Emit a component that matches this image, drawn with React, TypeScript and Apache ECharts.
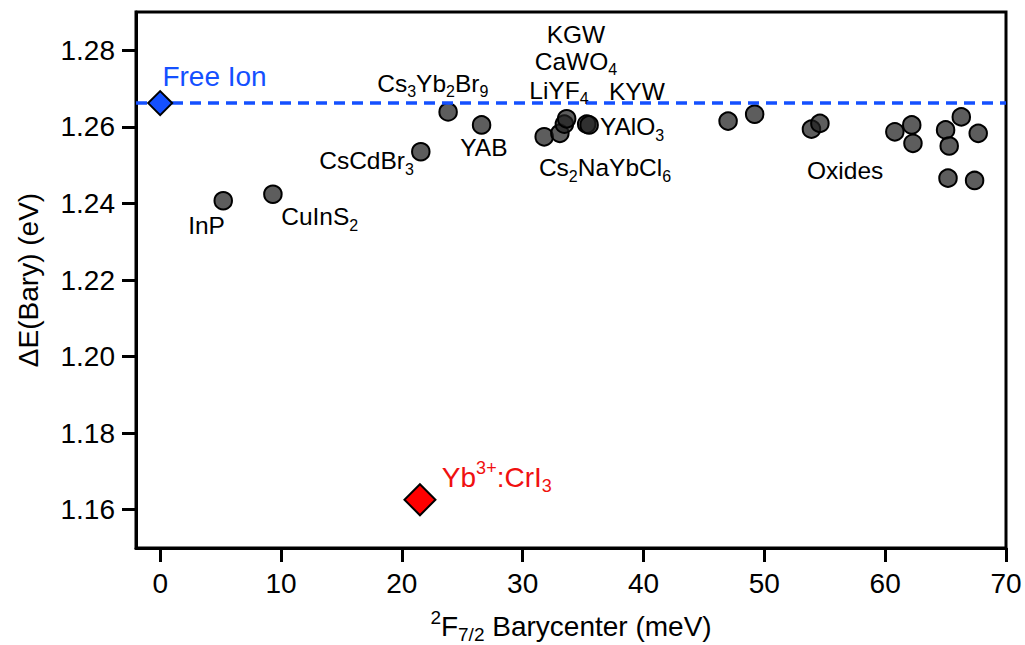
import React, { useEffect, useRef } from "react";
import * as echarts from "echarts";

// ---------- data ----------
const xTicks = [0, 10, 20, 30, 40, 50, 60, 70];
const yTicks = [1.16, 1.18, 1.2, 1.22, 1.24, 1.26, 1.28];

const freeIonPoint = [[0, 1.2662]];
const freeIonLevel = 1.2662;
const crI3Point = [[21.5, 1.1626]];

const hostNames = ["InP", "CuInS2", "CsCdBr3", "Cs3Yb2Br9", "YAB", "Cs2NaYbCl6", "LiYF4", "CaWO4", "KGW", "KYW", "YAlO3"];
const hostX = [5.22, 9.33, 21.57, 23.83, 26.6, 31.78, 33.08, 33.45, 33.64, 35.3, 35.5];
const hostY = [1.2407, 1.2424, 1.2535, 1.2639, 1.2605, 1.2574, 1.2583, 1.2607, 1.2621, 1.2607, 1.2605];

const oxideX = [47.0, 49.2, 53.9, 54.6, 60.8, 62.2, 62.3, 65.0, 66.3, 65.3, 67.7, 65.2, 67.4];
const oxideY = [1.2615, 1.2633, 1.2594, 1.2609, 1.2587, 1.2605, 1.2557, 1.2592, 1.2626, 1.255, 1.2583, 1.2466, 1.246];

// annotation texts (rich) and their anchor in data coordinates
const annotTexts = [
  "{n|InP}",
  "{n|CuInS}{s|2}",
  "{n|CsCdBr}{s|3}",
  "{n|Cs}{s|3}{n|Yb}{s|2}{n|Br}{s|9}",
  "{n|YAB}",
  "{n|Cs}{s|2}{n|NaYbCl}{s|6}",
  "{n|LiYF}{s|4}",
  "{n|CaWO}{s|4}",
  "{n|KGW}",
  "{n|KYW}",
  "{n|YAlO}{s|3}",
  "{n|Oxides}",
];
const annotX = [3.84, 13.2, 17.08, 22.56, 26.79, 36.81, 33.0, 34.41, 34.41, 39.45, 39.05, 56.69];
const annotY = [1.2342, 1.2365, 1.2511, 1.2714, 1.2545, 1.2493, 1.2696, 1.2771, 1.2841, 1.2693, 1.26, 1.2487];

const freeIonText = "{n|Free Ion}";
const freeIonTextAt = [4.5, 1.2731];
const crI3Text = "{n|Yb}{p|3+}{n|:CrI}{s|3}";
const crI3TextAt = [27.86, 1.1685];

// ---------- styles ----------
const FONT = "'Liberation Sans', Arial, Helvetica, sans-serif";
const BLUE = "#1450ff";
const RED = "#f01010";

const richFor = (size: number, color: string) => ({
  n: { fontSize: size, lineHeight: size + 8, color, fontFamily: FONT },
  s: { fontSize: Math.round(size * 0.66), lineHeight: 15, verticalAlign: "bottom", color, fontFamily: FONT },
  p: { fontSize: Math.round(size * 0.66), lineHeight: 15, verticalAlign: "top", color, fontFamily: FONT },
});

const App = () => {
  const ref = useRef<HTMLDivElement>(null);
  useEffect(() => {
    if (!ref.current) return;
    const chart = echarts.init(ref.current, null, { renderer: "svg" });

    const hosts = hostX.map((x, i) => ({ name: hostNames[i], value: [x, hostY[i]] }));
    const oxides = oxideX.map((x, i) => ({ name: "Oxide", value: [x, oxideY[i]] }));
    const annots = annotTexts.map((t, i) => ({ name: t, value: [annotX[i], annotY[i]] }));

    const circleStyle = {
      color: "rgba(30,30,30,0.72)",
      borderColor: "#000",
      borderWidth: 2,
      opacity: 1,
    };

    const labelSeries = (name: string, data: any[], size: number, color: string) => ({
      type: "scatter",
      name,
      data,
      symbolSize: 0,
      silent: true,
      itemStyle: { opacity: 1 },
      label: {
        show: true,
        position: "inside",
        formatter: (p: any) => p.name,
        rich: richFor(size, color),
      },
      z: 6,
    });

    chart.setOption({
      animation: false,
      backgroundColor: "#fff",
      grid: {
        left: 136,
        right: 19,
        top: 12,
        bottom: 97,
        show: true,
        borderColor: "#000",
        borderWidth: 3,
        containLabel: false,
        outerBoundsMode: "none",
      },
      xAxis: {
        type: "value",
        min: -2,
        max: 70,
        axisLine: { show: true, onZero: false, lineStyle: { color: "#000", width: 3 } },
        axisTick: { show: true, inside: false, length: 14, lineStyle: { color: "#000", width: 3 }, customValues: xTicks },
        axisLabel: {
          customValues: xTicks,
          margin: 21,
          color: "#000",
          fontSize: 28,
          fontFamily: FONT,
        },
        splitLine: { show: false },
        name: "{p|2}{n|F}{s|7/2}{n| Barycenter (meV)}",
        nameLocation: "middle",
        nameGap: 60,
        nameTextStyle: {
          rich: {
            n: { fontSize: 28, lineHeight: 36, color: "#000", fontFamily: FONT },
            s: { fontSize: 19, lineHeight: 16, verticalAlign: "bottom", color: "#000", fontFamily: FONT },
            p: { fontSize: 19, lineHeight: 16, verticalAlign: "top", color: "#000", fontFamily: FONT },
          },
        },
      },
      yAxis: {
        type: "value",
        min: 1.15,
        max: 1.29,
        axisLine: { show: true, onZero: false, lineStyle: { color: "#000", width: 3 } },
        axisTick: { show: true, inside: false, length: 14, lineStyle: { color: "#000", width: 3 }, customValues: yTicks },
        axisLabel: {
          customValues: yTicks,
          margin: 21,
          color: "#000",
          fontSize: 28,
          fontFamily: FONT,
          formatter: (v: number) => v.toFixed(2),
        },
        splitLine: { show: false },
        name: "ΔE(Bary) (eV)",
        nameLocation: "middle",
        nameGap: 94,
        nameTextStyle: { fontSize: 28, color: "#000", fontFamily: FONT },
      },
      series: [
        {
          type: "scatter",
          name: "Free ion",
          data: freeIonPoint,
          symbol: "diamond",
          symbolSize: 24,
          itemStyle: { color: BLUE, borderColor: "#000", borderWidth: 2, opacity: 1 },
          z: 5,
          markLine: {
            silent: true,
            symbol: "none",
            precision: 5,
            label: { show: false },
            lineStyle: { color: BLUE, width: 3.5, type: [11, 7], opacity: 1 },
            data: [{ yAxis: freeIonLevel }],
          },
        },
        {
          type: "scatter",
          name: "Hosts",
          data: hosts,
          symbol: "circle",
          symbolSize: 17.5,
          itemStyle: circleStyle,
          z: 4,
        },
        {
          type: "scatter",
          name: "Oxides",
          data: oxides,
          symbol: "circle",
          symbolSize: 17.5,
          itemStyle: circleStyle,
          z: 4,
        },
        {
          type: "scatter",
          name: "CrI3",
          data: crI3Point,
          symbol: "diamond",
          symbolSize: 31,
          itemStyle: { color: "#ff0000", borderColor: "#000", borderWidth: 2, opacity: 1 },
          z: 5,
        },
        labelSeries("labels", annots, 24.5, "#000"),
        labelSeries("freeIonLabel", [{ name: freeIonText, value: freeIonTextAt }], 28, BLUE),
        labelSeries("crI3Label", [{ name: crI3Text, value: crI3TextAt }], 28, RED),
      ],
    });
    return () => chart.dispose();
  }, []);
  return <div ref={ref} style={{ position: "fixed", left: 0, top: 0, width: 1025, height: 645 }} />;
};

export default App;
